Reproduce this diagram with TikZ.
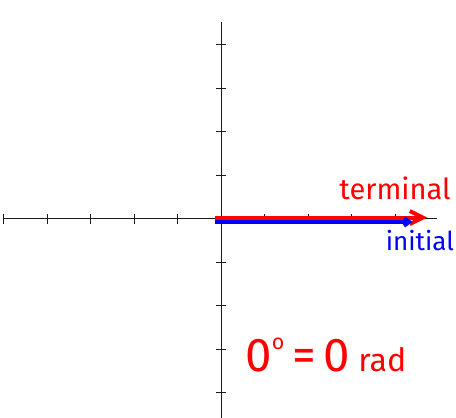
\documentclass[tikz,border=0pt]{standalone}
\usepackage{fontspec}
\setsansfont{Fira Sans}
\usepackage{xcolor}
\usetikzlibrary{arrows.meta,positioning,calc}
\definecolor{hRed}{HTML}{FF0000}
\definecolor{hBlue}{HTML}{0000FF}
\definecolor{inkA}{HTML}{1A1A1A}
\tikzset{
  axisln/.style={inkA, line width=0.7pt},
  tickln/.style={inkA, line width=0.6pt},
  termray/.style={-{Straight Barb[length=3mm, width=3mm]}, hRed, line width=2.6pt},
  initray/.style={-{Straight Barb[length=1.2mm, width=1.8mm]}, hBlue, line width=2.6pt},
  hand/.style={font=\sffamily, inner sep=1pt},
}
\begin{document}
\begin{tikzpicture}
  \useasboundingbox (-5.08,-4.57) rectangle (5.40,5.03);
  % axes
  \coordinate (O) at (0,0);
  \coordinate (xl) at (-5.0,0);
  \coordinate (xr) at (4.97,0);
  \coordinate (yt) at (0,4.53);
  \coordinate (yb) at (0,-4.57);
  \draw[axisln] (xl) -- (xr);
  \draw[axisln] (yb) -- (yt);
  \foreach \k in {-5,-4,-3,-2,-1,1,2,3,4}
    \draw[tickln] (\k,-0.12) -- (\k,0.12);
  \foreach \k in {-4,-3,-2,-1,1,2,3,4}
    \draw[tickln] (-0.12,\k) -- (0.12,\k);
  % rays
  \coordinate (rs) at (-0.14,0.03);
  \coordinate (re) at (4.74,0.03);
  \coordinate (bs) at (-0.14,-0.07);
  \coordinate (be) at (4.40,-0.07);
  \draw[termray] (rs) -- (re);
  \draw[initray] (bs) -- (be);
  % labels
  \node[hand, hRed, font=\sffamily\fontsize{19}{19}\selectfont] (term) at (4.0,0.71) {terminal};
  \node[hand, hRed, font=\sffamily\fontsize{17}{17}\selectfont, hBlue] (init) at (4.57,-0.5) {initial};
  \node[hand, hRed, font=\sffamily\fontsize{31}{31}\selectfont] (deg) at (2.41,-3.13)
    {0\raisebox{0.9ex}{\fontsize{14}{14}\selectfont o}\,=\,0\,{\fontsize{21}{21}\selectfont rad}};
\end{tikzpicture}
\end{document}
